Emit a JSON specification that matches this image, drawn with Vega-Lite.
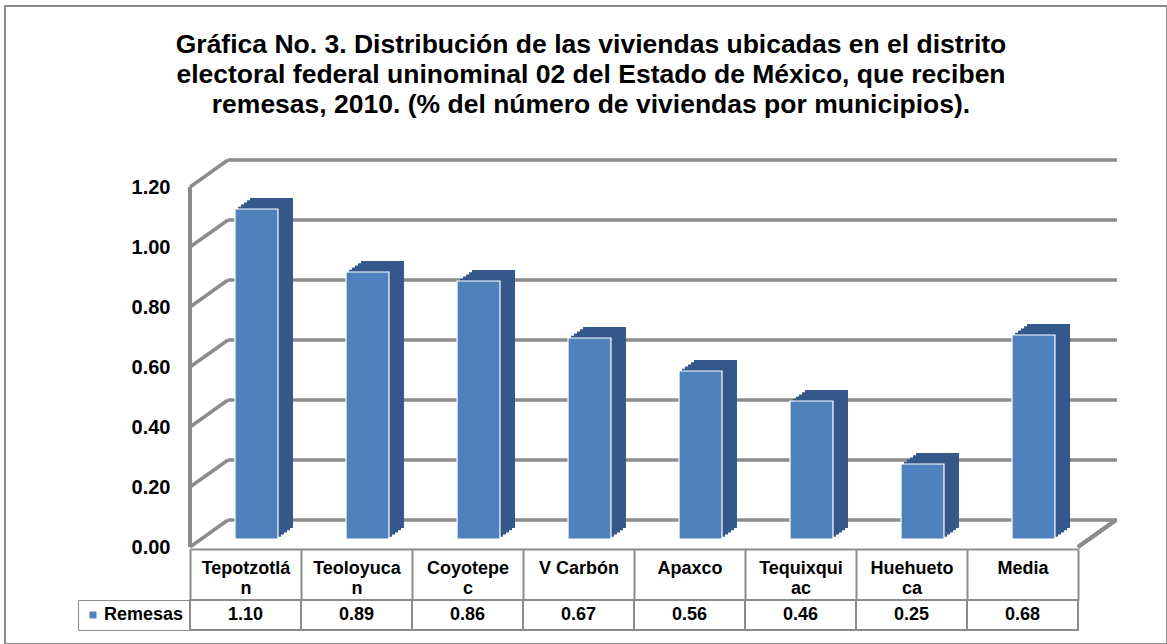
{
  "$schema": "https://vega.github.io/schema/vega-lite/v6.json",
  "autosize": {"type": "none"},
  "padding": {"left": 5, "top": 6, "right": 0, "bottom": 0},
  "width": 1162,
  "height": 638,
  "background": "white",
  "config": {
    "font": "Liberation Sans",
    "view": {"stroke": "#8c8c8c", "strokeWidth": 2}
  },
  "title": {
    "text": [
      "Gráfica No. 3. Distribución de las viviendas ubicadas en el distrito",
      "electoral federal uninominal 02 del Estado de México, que reciben",
      "remesas, 2010.  (% del número de viviendas por municipios)."
    ],
    "anchor": "middle",
    "frame": "group",
    "font": "Liberation Sans",
    "fontSize": 26.5,
    "fontWeight": "bold",
    "color": "black",
    "lineHeight": 30,
    "offset": 0,
    "baseline": "bottom",
    "dx": 5,
    "dy": 139
  },
  "datasets": {
    "bars": [
      {"cat": "Tepotzotlán", "value": 1.10, "serie": "Remesas"},
      {"cat": "Teoloyucan", "value": 0.89, "serie": "Remesas"},
      {"cat": "Coyotepec", "value": 0.86, "serie": "Remesas"},
      {"cat": "V Carbón", "value": 0.67, "serie": "Remesas"},
      {"cat": "Apaxco", "value": 0.56, "serie": "Remesas"},
      {"cat": "Tequixquiac", "value": 0.46, "serie": "Remesas"},
      {"cat": "Huehuetoca", "value": 0.25, "serie": "Remesas"},
      {"cat": "Media", "value": 0.68, "serie": "Remesas"}
    ],
    "grid": [{"v": 0}, {"v": 0.2}, {"v": 0.4}, {"v": 0.6}, {"v": 0.8}, {"v": 1.0}, {"v": 1.2}]
  },
  "resolve": {"scale": {"y": "independent"}},
  "layer": [
    {
      "layer": [
        {
          "data": {"name": "grid"},
          "mark": {"type": "rule", "color": "#8c8c8c", "strokeWidth": 3.5, "xOffset": 38, "x2Offset": 39, "yOffset": -27},
          "encoding": {
            "x": {"datum": "Tepotzotlán", "type": "nominal", "bandPosition": 0,
              "scale": {"domain": ["Tepotzotlán", "Teoloyucan", "Coyotepec", "V Carbón", "Apaxco", "Tequixquiac", "Huehuetoca", "Media"], "range": [185, 1073], "paddingInner": 0, "paddingOuter": 0}},
            "x2": {"datum": "Media", "bandPosition": 1},
            "y": {"field": "v", "type": "quantitative",
              "scale": {"domain": [0, 1.2], "range": [541, 181], "nice": false, "zero": true},
              "axis": {"values": [0, 0.2, 0.4, 0.6, 0.8, 1.0, 1.2], "format": ".2f", "orient": "left", "offset": -185, "domain": false, "ticks": false, "tickSize": 0, "grid": false, "labelPadding": 20, "labelFontSize": 20, "labelFontWeight": "bold", "labelColor": "black", "labelFont": "Liberation Sans", "title": null}}
          }
        },
        {
          "data": {"name": "grid"},
          "mark": {"type": "rule", "color": "#8c8c8c", "strokeWidth": 3.5, "x2Offset": 38, "y2Offset": -27},
          "encoding": {
            "x": {"datum": "Tepotzotlán", "type": "nominal", "bandPosition": 0},
            "x2": {"datum": "Tepotzotlán", "bandPosition": 0},
            "y": {"field": "v", "type": "quantitative"},
            "y2": {"field": "v"}
          }
        },
        {
          "data": {"name": "grid"},
          "mark": {"type": "rule", "color": "#8c8c8c", "strokeWidth": 3.5},
          "encoding": {
            "x": {"datum": "Tepotzotlán", "type": "nominal", "bandPosition": 0},
            "y": {"datum": 0, "type": "quantitative"},
            "y2": {"datum": 1.2}
          }
        },
        {
          "data": {"name": "grid"},
          "mark": {"type": "rule", "color": "#8c8c8c", "strokeWidth": 3.5, "x2Offset": 38, "y2Offset": -27},
          "encoding": {
            "x": {"datum": "Media", "type": "nominal", "bandPosition": 1},
            "x2": {"datum": "Media", "bandPosition": 1},
            "y": {"datum": 0, "type": "quantitative"},
            "y2": {"datum": 0}
          }
        },
        {
          "data": {"name": "bars"},
          "mark": {"type": "bar", "color": "#34588a", "width": {"band": 0.387}, "xOffset": 14, "x2Offset": 14, "yOffset": -10.2, "y2Offset": -10.2},
          "encoding": {"x": {"field": "cat", "type": "nominal"}, "y": {"field": "value", "type": "quantitative"}}
        },
        {
          "data": {"name": "bars"},
          "mark": {"type": "bar", "color": "#34588a", "width": {"band": 0.387}, "xOffset": 17, "x2Offset": 17, "yOffset": -12.4, "y2Offset": -12.4},
          "encoding": {"x": {"field": "cat", "type": "nominal"}, "y": {"field": "value", "type": "quantitative"}}
        },
        {
          "data": {"name": "bars"},
          "mark": {"type": "bar", "color": "#34588a", "width": {"band": 0.387}, "xOffset": 20, "x2Offset": 20, "yOffset": -14.6, "y2Offset": -14.6},
          "encoding": {"x": {"field": "cat", "type": "nominal"}, "y": {"field": "value", "type": "quantitative"}}
        },
        {
          "data": {"name": "bars"},
          "mark": {"type": "bar", "color": "#34588a", "width": {"band": 0.387}, "xOffset": 23, "x2Offset": 23, "yOffset": -16.8, "y2Offset": -16.8},
          "encoding": {"x": {"field": "cat", "type": "nominal"}, "y": {"field": "value", "type": "quantitative"}}
        },
        {
          "data": {"name": "bars"},
          "mark": {"type": "bar", "color": "#34588a", "width": {"band": 0.387}, "xOffset": 26, "x2Offset": 26, "yOffset": -19, "y2Offset": -19},
          "encoding": {"x": {"field": "cat", "type": "nominal"}, "y": {"field": "value", "type": "quantitative"}}
        },
        {
          "data": {"name": "bars"},
          "mark": {"type": "bar", "width": {"band": 0.387}, "xOffset": 11, "x2Offset": 11, "yOffset": -8, "y2Offset": -8, "stroke": "white", "strokeWidth": 1.2},
          "encoding": {
            "x": {"field": "cat", "type": "nominal",
              "axis": {"orient": "bottom", "offset": -95, "title": null, "labelAngle": 0, "labelAlign": "center", "domainColor": "#8c8c8c", "domainWidth": 2, "tickBand": "extent", "ticks": true, "tickSize": 51, "tickColor": "#8c8c8c", "tickWidth": 2, "labelPadding": -41, "labelBaseline": "top", "labelFontSize": 18, "labelFontWeight": "bold", "labelColor": "black", "labelFont": "Liberation Sans", "labelLineHeight": 20, "labelOverlap": false, "labelLimit": 0, "grid": false,
                "labelExpr": "datum.value == 'Tepotzotlán' ? ['Tepotzotlá', 'n'] : datum.value == 'Teoloyucan' ? ['Teoloyuca', 'n'] : datum.value == 'Coyotepec' ? ['Coyotepe', 'c'] : datum.value == 'Tequixquiac' ? ['Tequixqui', 'ac'] : datum.value == 'Huehuetoca' ? ['Huehueto', 'ca'] : datum.value"}},
            "y": {"field": "value", "type": "quantitative"},
            "color": {"field": "serie", "type": "nominal",
              "scale": {"range": ["#4f81bd"]},
              "legend": {"orient": "none", "legendX": 73, "legendY": 594, "title": null, "symbolType": "square", "symbolSize": 49, "symbolStrokeWidth": 0, "labelFontSize": 18, "labelFontWeight": "bold", "labelColor": "black", "labelFont": "Liberation Sans", "labelOffset": 2, "padding": 6, "strokeColor": "#8c8c8c"}}
          }
        }
      ]
    },
    {
      "data": {"name": "bars"},
      "layer": [
        {
          "mark": {"type": "rect", "fill": "white", "stroke": "#8c8c8c", "strokeWidth": 2},
          "encoding": {
            "x": {"field": "cat", "type": "nominal"},
            "y": {"field": "serie", "type": "nominal", "scale": {"range": [594, 624], "paddingInner": 0, "paddingOuter": 0}, "axis": null}
          }
        },
        {
          "mark": {"type": "text", "fontSize": 18, "fontWeight": "bold", "font": "Liberation Sans", "color": "black", "baseline": "middle"},
          "encoding": {
            "x": {"field": "cat", "type": "nominal"},
            "y": {"field": "serie", "type": "nominal"},
            "text": {"field": "value", "type": "quantitative", "format": ".2f"}
          }
        }
      ]
    }
  ]
}
